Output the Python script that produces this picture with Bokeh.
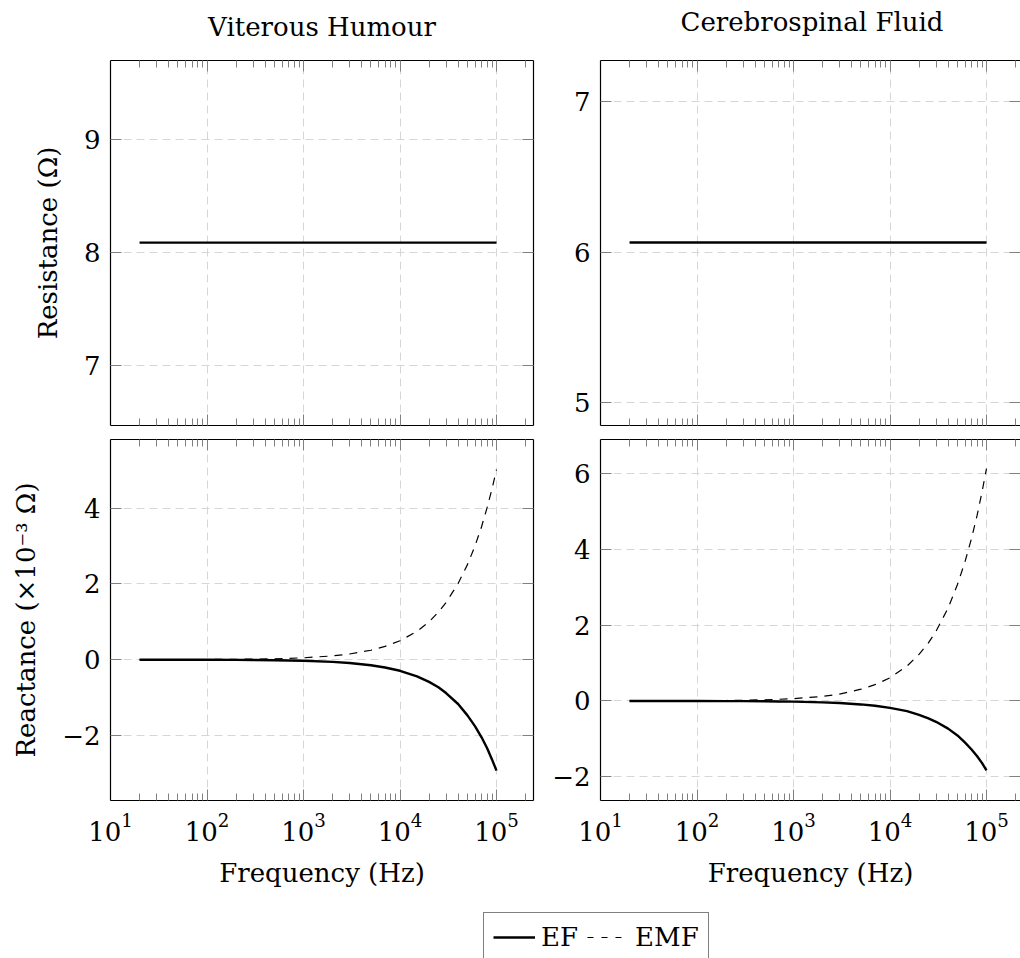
from bokeh.plotting import figure
from bokeh.models import (Range1d, FixedTicker, LinearAxis, Legend, LegendItem, Label,
                          CustomJSTickFormatter)
from bokeh.layouts import column, row
from bokeh.embed import file_html
from bokeh.resources import INLINE

# ---- data (reactance in units of 1e-3 ohm) ----
freq = [20, 30, 50, 70, 100, 200, 300, 500, 700, 1000, 2000, 3000, 5000, 7000,
        10000, 15000, 20000, 25000, 30000, 40000, 50000, 60000, 70000, 80000, 90000, 100000]

vh_ef_reactance = [-0.0006, -0.0009, -0.0015, -0.002, -0.003, -0.006, -0.009, -0.015, -0.021,
                   -0.029, -0.059, -0.088, -0.147, -0.205, -0.293, -0.44, -0.586, -0.73, -0.88,
                   -1.17, -1.47, -1.76, -2.05, -2.34, -2.64, -2.93]
vh_emf_reactance = [0.001, 0.0015, 0.0025, 0.0035, 0.005, 0.01, 0.015, 0.025, 0.035,
                    0.05, 0.10, 0.15, 0.25, 0.35, 0.50, 0.75, 1.00, 1.26, 1.51,
                    2.01, 2.51, 3.01, 3.51, 4.02, 4.52, 5.02]
csf_ef_reactance = [-0.0004, -0.0005, -0.0009, -0.0013, -0.0018, -0.0037, -0.0055, -0.009, -0.013,
                    -0.018, -0.037, -0.055, -0.092, -0.128, -0.183, -0.27, -0.37, -0.46, -0.55,
                    -0.73, -0.91, -1.10, -1.28, -1.46, -1.64, -1.83]
csf_emf_reactance = [0.0012, 0.0018, 0.003, 0.0043, 0.006, 0.012, 0.018, 0.031, 0.043,
                     0.061, 0.12, 0.18, 0.31, 0.43, 0.61, 0.92, 1.23, 1.53, 1.84,
                     2.45, 3.07, 3.68, 4.29, 4.90, 5.52, 6.13]

res_freq = [20, 100000]
vh_resistance = [8.086, 8.086]
csf_resistance = [6.064, 6.064]

column_titles = ["Viterous Humour", "Cerebrospinal Fluid"]

decade_ticks = [10, 100, 1000, 10000, 100000]
minor_freq_ticks = [m * 10 ** e for e in range(1, 6) for m in range(2, 10)]

FONT = "DejaVu Serif"
FS = "26px"
TICK_COLOR = "#808080"
GRID_COLOR = "#d6d6d6"


def style_axis(ax, labels=True):
    ax.axis_line_color = "black"
    ax.axis_line_width = 1.2
    ax.major_tick_in = 11
    ax.major_tick_out = 0
    ax.minor_tick_in = 7
    ax.minor_tick_out = 0
    ax.major_tick_line_color = TICK_COLOR
    ax.minor_tick_line_color = TICK_COLOR
    ax.major_label_text_font = FONT
    ax.major_label_text_color = "black"
    ax.axis_label_text_font = FONT
    ax.axis_label_text_font_size = FS
    ax.axis_label_text_font_style = "normal"
    ax.axis_label_text_color = "black"
    if labels:
        ax.major_label_text_font_size = FS
    else:
        # tick marks only, no tick text
        ax.formatter = CustomJSTickFormatter(code="return ''")
        ax.major_label_text_font_size = "1px"
        ax.major_label_standoff = 0


def panel(width, height, borders, x_end, y_range, y_ticks,
          ylabel=None, xlabels=False, right_line=True):
    left, right, top, bottom = borders
    p = figure(width=width, height=height, x_axis_type="log",
               x_range=Range1d(10, x_end), y_range=Range1d(*y_range),
               output_backend="svg", toolbar_location=None,
               min_border_left=left, min_border_right=right,
               min_border_top=top, min_border_bottom=bottom,
               outline_line_color=None, background_fill_color="white",
               border_fill_color="white")
    x_ticker = FixedTicker(ticks=decade_ticks, minor_ticks=minor_freq_ticks)
    y_ticker = FixedTicker(ticks=y_ticks, minor_ticks=[])

    xa = p.xaxis[0]
    xa.ticker = x_ticker
    style_axis(xa, labels=xlabels)
    if xlabels:
        xa.major_label_standoff = 12
        xa.axis_label = "Frequency (Hz)"
        xa.axis_label_standoff = 14

    ya = p.yaxis[0]
    ya.ticker = y_ticker
    style_axis(ya)
    ya.major_label_standoff = 10
    ya.major_label_overrides = {t: ("\u2212" + str(abs(t))) for t in y_ticks if t < 0}
    if ylabel:
        ya.axis_label = ylabel
        ya.axis_label_standoff = 18

    top_axis = LinearAxis(ticker=x_ticker)
    style_axis(top_axis, labels=False)
    p.add_layout(top_axis, "above")

    right_axis = LinearAxis(ticker=y_ticker)
    style_axis(right_axis, labels=False)
    if not right_line:
        right_axis.axis_line_color = None
    p.add_layout(right_axis, "right")

    for g in (p.xgrid[0], p.ygrid[0]):
        g.grid_line_color = GRID_COLOR
        g.grid_line_dash = "8 5"
        g.grid_line_width = 1
    p.xgrid[0].ticker = x_ticker
    p.ygrid[0].ticker = y_ticker
    return p


def blank_strip(height):
    s = figure(width=1020, height=height, x_range=Range1d(0, 1), y_range=Range1d(0, 1),
               output_backend="svg", toolbar_location=None, outline_line_color=None,
               min_border=0, x_axis_location=None, y_axis_location=None)
    s.xgrid.visible = False
    s.ygrid.visible = False
    return s


# column headings strip
head = blank_strip(58)
for cx, rise, txt in zip([321.5, 811.5], [32, 37], column_titles):
    head.add_layout(Label(x=cx, y=rise, x_units="screen", y_units="screen", text=txt,
                          text_font=FONT, text_font_size=FS, text_color="black",
                          text_align="center", text_baseline="alphabetic"))

x_end_left = 10 ** (1 + 423 / 96.5)
x_end_right = 10 ** (1 + 420 / 96.5)

p_vh_res = panel(545, 374, (110, 12, 2, 7), x_end_left, (6.468, 9.697), [7, 8, 9],
                 ylabel="Resistance (\u03a9)")
p_csf_res = panel(475, 374, (55, 0, 2, 7), x_end_right, (4.849, 7.272), [5, 6, 7],
                  right_line=False)
p_vh_x = panel(545, 458, (110, 12, 7, 87), x_end_left, (-3.718, 5.814), [-2, 0, 2, 4],
               ylabel="Reactance (\u00d710\u207b\u00b3 \u03a9)", xlabels=True)
p_csf_x = panel(475, 458, (55, 0, 7, 87), x_end_right, (-2.626, 6.896), [-2, 0, 2, 4, 6],
                xlabels=True, right_line=False)

SOLID = dict(line_color="black", line_width=2.4)
DASHED = dict(line_color="black", line_width=1.2, line_dash="8 7")

p_vh_res.line(res_freq, vh_resistance, **SOLID)
p_csf_res.line(res_freq, csf_resistance, **SOLID)
p_vh_x.line(freq, vh_emf_reactance, **DASHED)
p_vh_x.line(freq, vh_ef_reactance, **SOLID)
p_csf_x.line(freq, csf_emf_reactance, **DASHED)
p_csf_x.line(freq, csf_ef_reactance, **SOLID)

# shared legend strip below the panels; the key renderers sit outside the visible range
lf = blank_strip(68)
r_ef = lf.line([-5, -4], [-5, -5], **SOLID)
r_emf = lf.line([-5, -4], [-5, -5], line_color="black", line_width=1.2, line_dash="6 8")
legend = Legend(items=[LegendItem(label="EF", renderers=[r_ef]),
                       LegendItem(label="EMF", renderers=[r_emf])],
                orientation="horizontal", location=(483, -4),
                label_text_font=FONT, label_text_font_size=FS, label_text_color="black",
                glyph_width=42, glyph_height=20, label_standoff=6, spacing=9,
                padding=9, margin=0, border_line_color="black", border_line_width=1,
                background_fill_color="white", background_fill_alpha=1.0)
lf.add_layout(legend, "center")

layout = column(head, row(p_vh_res, p_csf_res), row(p_vh_x, p_csf_x), lf)

open("out.html", "w").write(file_html(layout, INLINE))
